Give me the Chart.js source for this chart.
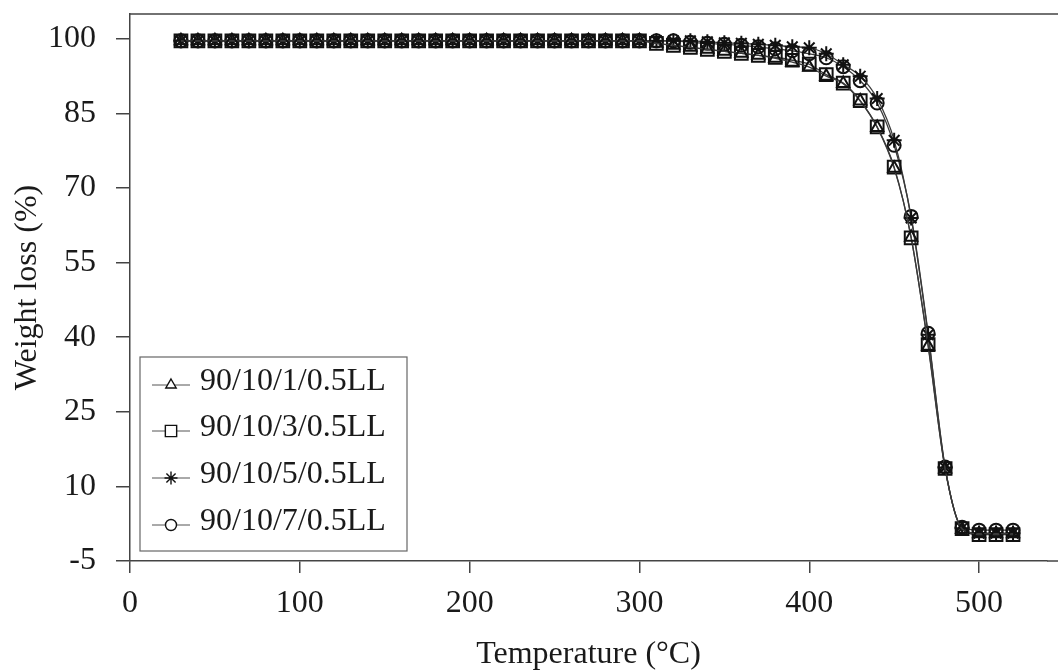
<!DOCTYPE html>
<html>
<head>
<meta charset="utf-8">
<script src="https://cdn.jsdelivr.net/npm/chart.js"></script>
<style>
  body { margin: 0; background: #fff; }
  #wrap { width: 1058px; height: 671px; }
</style>
</head>
<body>
<div id="wrap"><canvas id="tga"></canvas></div>
<script>
const temps = [30, 40, 50, 60, 70, 80, 90, 100, 110, 120, 130, 140, 150, 160, 170, 180, 190, 200,
  210, 220, 230, 240, 250, 260, 270, 280, 290, 300, 310, 320, 330, 340, 350, 360, 370, 380, 390,
  400, 410, 420, 430, 440, 450, 460, 470, 480, 490, 500, 510, 520];

const s1 = [99.6, 99.6, 99.6, 99.6, 99.6, 99.6, 99.6, 99.6, 99.6, 99.6, 99.6, 99.6, 99.6, 99.6,
  99.6, 99.6, 99.6, 99.6, 99.6, 99.6, 99.6, 99.6, 99.6, 99.6, 99.6, 99.6, 99.6, 99.6,
  99.1, 98.7, 98.3, 97.9, 97.5, 97.1, 96.7, 96.1, 95.3, 94.3, 92.5, 91.0, 87.5, 82.2, 74.0,
  60.1, 38.2, 13.5, 1.4, 0.5, 0.5, 0.5];
const s3 = [99.6, 99.6, 99.6, 99.6, 99.6, 99.6, 99.6, 99.6, 99.6, 99.6, 99.6, 99.6, 99.6, 99.6,
  99.6, 99.6, 99.6, 99.6, 99.6, 99.6, 99.6, 99.6, 99.6, 99.6, 99.6, 99.6, 99.6, 99.6,
  99.1, 98.7, 98.3, 97.9, 97.5, 97.1, 96.7, 96.3, 95.7, 94.9, 92.8, 91.1, 87.6, 82.3, 74.2,
  60.0, 38.5, 13.6, 1.5, 0.3, 0.3, 0.3];
const s5 = [99.6, 99.6, 99.6, 99.6, 99.6, 99.6, 99.6, 99.6, 99.6, 99.6, 99.6, 99.6, 99.6, 99.6,
  99.6, 99.6, 99.6, 99.6, 99.6, 99.6, 99.6, 99.6, 99.6, 99.6, 99.6, 99.6, 99.6, 99.6,
  99.6, 99.6, 99.6, 99.4, 99.2, 99.1, 98.9, 98.7, 98.4, 98.2, 97.0, 94.8, 92.5, 88.0, 79.6,
  64.0, 40.5, 13.8, 1.6, 0.6, 0.6, 0.6];
const s7 = [99.6, 99.6, 99.6, 99.6, 99.6, 99.6, 99.6, 99.6, 99.6, 99.6, 99.6, 99.6, 99.6, 99.6,
  99.6, 99.6, 99.6, 99.6, 99.6, 99.6, 99.6, 99.6, 99.6, 99.6, 99.6, 99.6, 99.6, 99.6,
  99.6, 99.6, 99.3, 99.1, 98.9, 98.7, 98.4, 98.0, 97.6, 97.0, 96.2, 94.4, 91.6, 87.1, 78.6,
  64.3, 40.8, 13.9, 1.8, 1.2, 1.2, 1.2];

const seriesNames = ['90/10/1/0.5LL', '90/10/3/0.5LL', '90/10/5/0.5LL', '90/10/7/0.5LL'];
const xTicks = [0, 100, 200, 300, 400, 500];
const yTicks = [-5, 10, 25, 40, 55, 70, 85, 100];

const serif = "'Liberation Serif', 'Times New Roman', serif";
const styles = [
  { pointStyle: 'triangle', pointRadius: 7 },
  { pointStyle: 'rect', pointRadius: 9 },
  { pointStyle: 'star', pointRadius: 7.5 },
  { pointStyle: 'circle', pointRadius: 6.5 }
];

function pts(vals) {
  return temps.map((t, i) => ({ x: t, y: vals[i] }));
}

const datasets = [s1, s3, s5, s7].map((vals, i) => ({
  label: seriesNames[i],
  data: pts(vals),
  showLine: true,
  borderColor: '#3a3a3a',
  borderWidth: 1.3,
  cubicInterpolationMode: 'monotone',
  pointStyle: styles[i].pointStyle,
  pointRadius: styles[i].pointRadius,
  pointBorderColor: '#111',
  pointBackgroundColor: 'rgba(0,0,0,0)',
  pointBorderWidth: 2
}));

// legend box inside the plot, plus the frame lines running to the right edge
const boxLegend = {
  id: 'boxLegend',
  afterDraw(chart) {
    const ctx = chart.ctx;
    const a = chart.chartArea;
    ctx.save();
    ctx.strokeStyle = '#444';
    ctx.lineWidth = 1.5;
    ctx.beginPath();
    ctx.moveTo(a.left, a.top);
    ctx.lineTo(chart.width, a.top);
    ctx.moveTo(a.right, a.bottom);
    ctx.lineTo(chart.width, a.bottom);
    ctx.stroke();

    const bx = a.left + 10, by = 357, bw = 267, bh = 194;
    ctx.fillStyle = '#fff';
    ctx.fillRect(bx, by, bw, bh);
    ctx.strokeStyle = '#666';
    ctx.lineWidth = 1.2;
    ctx.strokeRect(bx, by, bw, bh);

    const rows = [382, 428, 475, 522];
    chart.data.datasets.forEach((ds, i) => {
      const y = rows[i];
      ctx.strokeStyle = '#555';
      ctx.lineWidth = 1;
      ctx.beginPath();
      ctx.moveTo(bx + 12, y + 3);
      ctx.lineTo(bx + 50, y + 3);
      ctx.stroke();
      ctx.fillStyle = '#fff';
      ctx.strokeStyle = '#111';
      ctx.lineWidth = 1.4;
      Chart.helpers.drawPoint(ctx, {
        pointStyle: ds.pointStyle,
        radius: ds.pointRadius - 1,
        borderWidth: 1.4
      }, bx + 31, y + 3);
      ctx.fillStyle = '#1a1a1a';
      ctx.font = '32px ' + serif;
      ctx.textBaseline = 'middle';
      ctx.textAlign = 'left';
      ctx.fillText(ds.label, bx + 60, y);
    });
    ctx.restore();
  }
};

new Chart(document.getElementById('tga'), {
  type: 'scatter',
  data: { datasets: datasets },
  plugins: [boxLegend],
  options: {
    responsive: true,
    maintainAspectRatio: false,
    animation: false,
    layout: { padding: { left: 8, top: 14, right: 0, bottom: 0 } },
    plugins: {
      legend: { display: false },
      tooltip: { enabled: false }
    },
    scales: {
      x: {
        type: 'linear',
        min: 0,
        max: 540,
        afterBuildTicks: (s) => { s.ticks = xTicks.map(v => ({ value: v })); },
        afterFit: (s) => { s.height = 110; s.paddingRight = 0; s.paddingLeft = 0; },
        grid: { drawOnChartArea: false, drawTicks: true, tickLength: 12, color: '#444', lineWidth: 1.5 },
        border: { color: '#444', width: 1.5 },
        ticks: { color: '#1a1a1a', padding: 15, font: { family: serif, size: 32, lineHeight: 1 }, maxRotation: 0 },
        title: {
          display: true,
          text: 'Temperature (°C)',
          color: '#1a1a1a',
          font: { family: serif, size: 32, lineHeight: 1 },
          padding: { top: 20, bottom: 0 }
        }
      },
      y: {
        min: -5,
        max: 105,
        afterBuildTicks: (s) => { s.ticks = yTicks.map(v => ({ value: v })); },
        afterFit: (s) => { s.width = 122; s.paddingTop = 0; s.paddingBottom = 0; },
        grid: { drawOnChartArea: false, drawTicks: true, tickLength: 14, color: '#444', lineWidth: 1.5 },
        border: { color: '#444', width: 1.5 },
        ticks: { color: '#1a1a1a', padding: 20, font: { family: serif, size: 32, lineHeight: 1 } },
        title: {
          display: true,
          text: 'Weight loss (%)',
          color: '#1a1a1a',
          font: { family: serif, size: 32, lineHeight: 1 },
          padding: { top: 4, bottom: 4 }
        }
      }
    }
  }
});
</script>
</body>
</html>
